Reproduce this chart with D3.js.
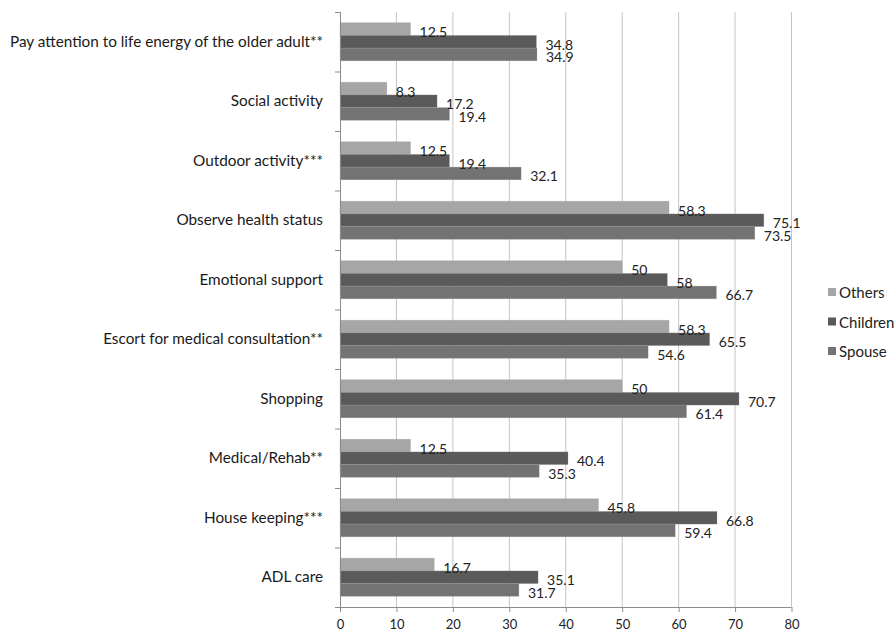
<!DOCTYPE html>
<html>
<head>
<meta charset="utf-8">
<script src="https://cdn.jsdelivr.net/npm/d3@7"></script>
<style>
  html, body { margin: 0; padding: 0; background: #ffffff; }
  svg { display: block; }
  text { font-family: Lato, "Open Sans", sans-serif; }
</style>
</head>
<body>
<svg id="chart" width="896" height="635"></svg>
<script>
const categories = [
  "Pay attention to life energy of the older adult**",
  "Social activity",
  "Outdoor activity***",
  "Observe health status",
  "Emotional support",
  "Escort for medical consultation**",
  "Shopping",
  "Medical/Rehab**",
  "House keeping***",
  "ADL care"
];
const seriesNames = ["Others", "Children", "Spouse"];
const others   = [12.5, 8.3, 12.5, 58.3, 50, 58.3, 50, 12.5, 45.8, 16.7];
const children = [34.8, 17.2, 19.4, 75.1, 58, 65.5, 70.7, 40.4, 66.8, 35.1];
const spouse   = [34.9, 19.4, 32.1, 73.5, 66.7, 54.6, 61.4, 35.3, 59.4, 31.7];
const xTicks = [0, 10, 20, 30, 40, 50, 60, 70, 80];
const colors = ["#a6a6a6", "#5a5a5a", "#737373"];

const seriesValues = [others, children, spouse];
const svg = d3.select("#chart");

const pLeft = 340, pRight = 791.5, pTop = 12, pBottom = 607;

const x = d3.scaleLinear().domain([0, 80]).range([pLeft, pRight]);
const y = d3.scaleBand().domain(categories).range([pTop, pBottom]).paddingInner(0.36).paddingOuter(0.18);
const ySub = d3.scaleBand().domain(seriesNames).range([0, y.bandwidth()]);

// gridlines
svg.append("g").selectAll("line").data(xTicks.slice(1)).join("line")
  .attr("x1", d => x(d)).attr("x2", d => x(d))
  .attr("y1", pTop).attr("y2", pBottom)
  .attr("stroke", "#c4c4c4").attr("stroke-width", 1);

// bars
const rows = [];
categories.forEach((c, i) => {
  seriesNames.forEach((s, j) => rows.push({cat: c, ser: s, j: j, v: seriesValues[j][i]}));
});

svg.append("g").selectAll("rect").data(rows).join("rect")
  .attr("x", x(0))
  .attr("y", d => y(d.cat) + ySub(d.ser))
  .attr("width", d => x(d.v) - x(0))
  .attr("height", ySub.bandwidth())
  .attr("fill", d => colors[d.j])
  .attr("stroke", "#9a9a9a")
  .attr("stroke-opacity", 0.35)
  .attr("stroke-width", 0.7);

// value labels
svg.append("g").selectAll("text").data(rows).join("text")
  .attr("x", d => x(d.v) + 9)
  .attr("y", d => y(d.cat) + ySub(d.ser) + ySub.bandwidth() / 2 + 2.5)
  .attr("dominant-baseline", "central")
  .attr("font-size", 14)
  .attr("fill", "#222")
  .text(d => d.v);

// x axis
const xAxis = d3.axisBottom(x).tickValues(xTicks).tickSize(5).tickPadding(8).tickFormat(d3.format("d"));
const gx = svg.append("g").attr("transform", `translate(0,${pBottom})`).call(xAxis);
gx.select(".domain").attr("stroke", "#8c8c8c").attr("d", `M${pLeft - 5},0.5H${pRight}`);
gx.selectAll(".tick line").attr("stroke", "#8c8c8c");
gx.selectAll("text").attr("font-size", 13).attr("fill", "#222").attr("font-family", "Lato, sans-serif");

// y axis
const yTickPos = categories.map((c, i) => pTop + i * (pBottom - pTop) / categories.length);
svg.append("line").attr("x1", pLeft + 0.5).attr("x2", pLeft + 0.5).attr("y1", pTop).attr("y2", pBottom)
  .attr("stroke", "#8c8c8c");
svg.append("g").selectAll("line").data(yTickPos).join("line")
  .attr("x1", pLeft - 5).attr("x2", pLeft).attr("y1", d => d + 0.5).attr("y2", d => d + 0.5)
  .attr("stroke", "#8c8c8c");

const yAxis = d3.axisLeft(y).tickSize(0).tickPadding(17);
const gy = svg.append("g").attr("transform", `translate(${pLeft},0)`).call(yAxis);
gy.select(".domain").remove();
gy.selectAll("text").attr("font-size", 15.3).attr("fill", "#1a1a1a").attr("font-family", "Lato, sans-serif");

// legend
const lg = svg.append("g").selectAll("g").data(seriesNames).join("g")
  .attr("transform", (d, i) => `translate(828,${292 + i * 29.5})`);
lg.append("rect").attr("x", 0).attr("y", -4).attr("width", 8).attr("height", 8)
  .attr("fill", (d, i) => colors[i]);
lg.append("text").attr("x", 11).attr("y", 0).attr("dominant-baseline", "central")
  .attr("font-size", 15).attr("fill", "#222").text(d => d);
</script>
</body>
</html>
